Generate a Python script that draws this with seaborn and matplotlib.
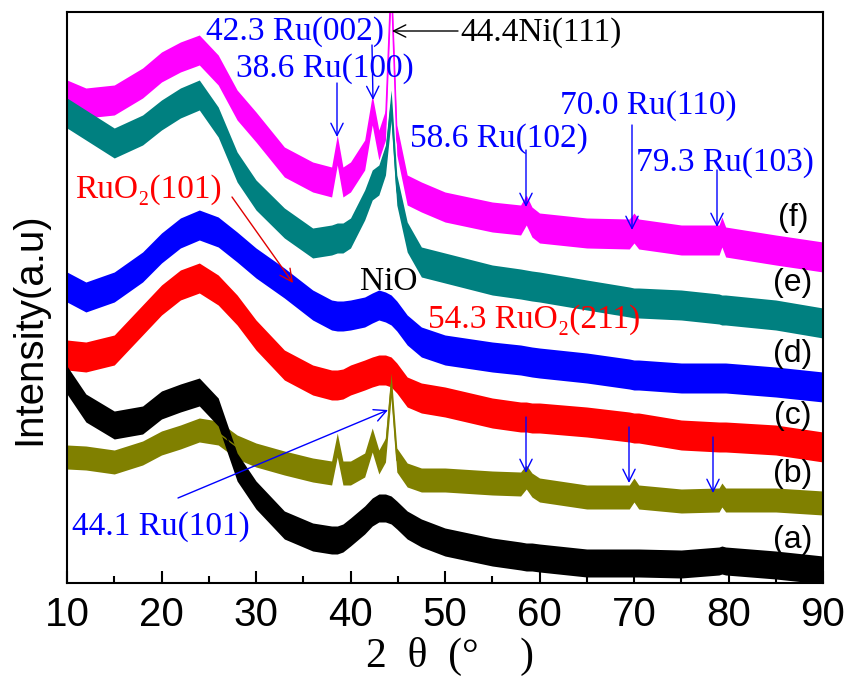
import numpy as np
import pandas as pd
import matplotlib
matplotlib.use("Agg")
import matplotlib.pyplot as plt
import seaborn as sns

# ---- data (2theta in degrees, intensity in arbitrary offset units) ----
two_theta = [10, 12, 15, 18, 20, 22, 24, 26, 28, 30, 33, 36, 38, 38.6, 39.2, 40,
             41.5, 42.3, 43, 43.7, 44.3, 44.9, 46, 47.5, 50, 55, 58, 58.6, 59.2,
             60, 65, 69.5, 70, 70.5, 75, 79, 79.3, 79.7, 85, 90]

f_rows = [95, 103, 100, 83, 67, 57, 50, 70, 105, 127, 162, 177, 182, 150, 182, 177,
          155, 110, 145, 125, -20, 140, 190, 197, 207, 217, 220, 210, 222,
          228, 233, 234, 228, 234, 240, 240, 232, 242, 250, 257]
e_rows = [113, 125, 143, 130, 115, 103, 95, 122, 167, 195, 223, 243, 240, 238, 238, 233,
          205, 185, 180, 160, 105, 190, 237, 262, 268, 280, 284, 285, 286,
          287, 295, 302, 303, 303, 305, 309, 310, 310, 315, 323]
d_rows = [287, 297, 287, 267, 248, 233, 225, 232, 247, 263, 283, 305, 315, 316, 316, 315,
          312, 308, 305, 307, 310, 316, 330, 342, 350, 357, 360, 361, 362,
          363, 368, 374, 375, 375, 378, 378, 378, 378, 382, 387]
c_rows = [355, 357, 350, 320, 300, 285, 278, 290, 310, 335, 365, 380, 385, 385, 384, 380,
          375, 372, 370, 370, 372, 378, 392, 398, 402, 413, 417, 417, 418,
          418, 422, 427, 428, 428, 435, 437, 437, 437, 440, 447]
b_rows = [457, 458, 462, 453, 443, 437, 430, 433, 447, 455, 463, 470, 473, 445, 473, 473,
          465, 440, 462, 450, 385, 460, 475, 480, 480, 483, 484, 477, 485,
          490, 497, 497, 490, 497, 501, 500, 495, 500, 500, 503]
a_rows = [380, 408, 425, 420, 405, 398, 392, 412, 467, 495, 525, 537, 540, 540, 538, 532,
          520, 512, 508, 508, 510, 515, 525, 533, 542, 552, 556, 557, 557,
          558, 563, 563, 563, 563, 564, 561, 560, 561, 565, 570]

samples = ["(f)", "(e)", "(d)", "(c)", "(b)", "(a)"]
colors = ["#FF00FF", "#008080", "#0000FF", "#FF0000", "#808000", "#000000"]
BASE = 583  # frame bottom row -> zero intensity

rows = {"(f)": f_rows, "(e)": e_rows, "(d)": d_rows,
        "(c)": c_rows, "(b)": b_rows, "(a)": a_rows}
frames = []
for s in samples:
    frames.append(pd.DataFrame({"two_theta": two_theta,
                                "intensity": [BASE - r for r in rows[s]],
                                "sample": s}))
df = pd.concat(frames, ignore_index=True)

# ---- figure ----
sns.set_theme(style="white")
plt.rcParams["font.family"] = ["Liberation Sans", "DejaVu Sans"]
plt.rcParams["text.color"] = "black"
plt.rcParams["axes.labelcolor"] = "black"
fig = plt.figure(figsize=(8.48, 6.77), dpi=100)
ax = fig.add_axes([67/848, 94/677, 756/848, 571/677])

band = {"(f)": 15, "(e)": 15, "(d)": 15, "(c)": 15, "(b)": 12, "(a)": 14}
for s, col in zip(samples, colors):
    sub = df[df["sample"] == s]
    ax.fill_between(sub["two_theta"], sub["intensity"] - band[s],
                    sub["intensity"] + band[s], color=col, lw=0, alpha=1.0)
sns.lineplot(data=df, x="two_theta", y="intensity", hue="sample",
             palette=dict(zip(samples, colors)), hue_order=samples,
             estimator=None, sort=False, legend=False, linewidth=1.0, ax=ax)

ax.set_xlim(10, 90)
ax.set_ylim(0, 571)
ax.set_xticks(range(10, 91, 10))
ax.set_xticks(range(15, 90, 10), minor=True)
ax.set_yticks([])
ax.tick_params(axis="x", which="major", direction="in", length=9, width=1.5,
               labelsize=29, pad=9, bottom=True, top=False, colors="black")
ax.tick_params(axis="x", which="minor", direction="in", length=5, width=1.5,
               bottom=True, top=False, colors="black")
for sp in ax.spines.values():
    sp.set_color("black")
    sp.set_linewidth(1.5)

ax.set_xlabel("2  θ  (°    )", fontsize=30, color="black",
              family=["Liberation Serif", "DejaVu Serif"])
ax.xaxis.set_label_coords(0.507, -0.095)
ax.set_ylabel("Intensity(a.u)", fontsize=29, color="black",
              family=["Liberation Sans", "DejaVu Sans"])
ax.yaxis.set_label_coords(-0.025, 0.445)

serif = ["Liberation Serif", "DejaVu Serif"]
BLUE = "#0000FF"
TS = 24

def V(py):
    return BASE - py

def X(px):
    return 10 + (px - 67) / 9.45

def arrow(x0, y0, x1, y1, col, lw=1.0):
    ax.annotate("", xy=(x1, y1), xytext=(x0, y0),
                arrowprops=dict(arrowstyle="->", color=col, lw=lw,
                                mutation_scale=22, shrinkA=0, shrinkB=0))

# peak labels
ax.text(X(295), V(32), "42.3 Ru(002)", color=BLUE, fontsize=TS, family=serif,
        ha="center", va="center")
ax.text(X(460), V(33), "44.4Ni(111)", color="black", fontsize=TS, family=serif,
        ha="left", va="center")
arrow(X(458), V(31), X(392), V(31), "black")
ax.text(X(236), V(69), "38.6 Ru(100)", color=BLUE, fontsize=TS, family=serif,
        ha="left", va="center")
arrow(X(337), V(83), X(337), V(137), BLUE)
arrow(X(372), V(45), X(373), V(100), BLUE)
ax.text(X(410), V(139), "58.6 Ru(102)", color=BLUE, fontsize=TS, family=serif,
        ha="left", va="center")
arrow(X(526), V(150), X(526), V(207), BLUE)
ax.text(X(560), V(106), "70.0 Ru(110)", color=BLUE, fontsize=TS, family=serif,
        ha="left", va="center")
arrow(X(632), V(125), X(632), V(230), BLUE)
ax.text(X(636), V(163), "79.3 Ru(103)", color=BLUE, fontsize=TS, family=serif,
        ha="left", va="center")
arrow(X(717), V(170), X(717), V(227), BLUE)

ax.text(X(75), V(190), "RuO₂(101)", color="#FF0000", fontsize=TS, family=serif,
        ha="left", va="center")
arrow(X(232), V(197), X(293), V(283), "#E00000")
ax.text(X(360), V(282), "NiO", color="black", fontsize=TS, family=serif,
        ha="left", va="center")
ax.text(X(428), V(320), "54.3 RuO₂(211)", color="#FF0000", fontsize=TS, family=serif,
        ha="left", va="center")
ax.text(X(72), V(527), "44.1 Ru(101)", color=BLUE, fontsize=TS, family=serif,
        ha="left", va="center")
arrow(X(178), V(498), X(388), V(410), BLUE)

# arrows on sample (b)
arrow(X(526), V(417), X(526), V(473), BLUE)
arrow(X(629), V(427), X(629), V(483), BLUE)
arrow(X(713), V(437), X(713), V(493), BLUE)

# sample tags
for s, py in zip(samples, [218, 283, 354, 416, 474, 540]):
    ax.text(X(793), V(py), s, color="black", fontsize=23, ha="center", va="center")

fig.savefig("out.png", dpi=100)
